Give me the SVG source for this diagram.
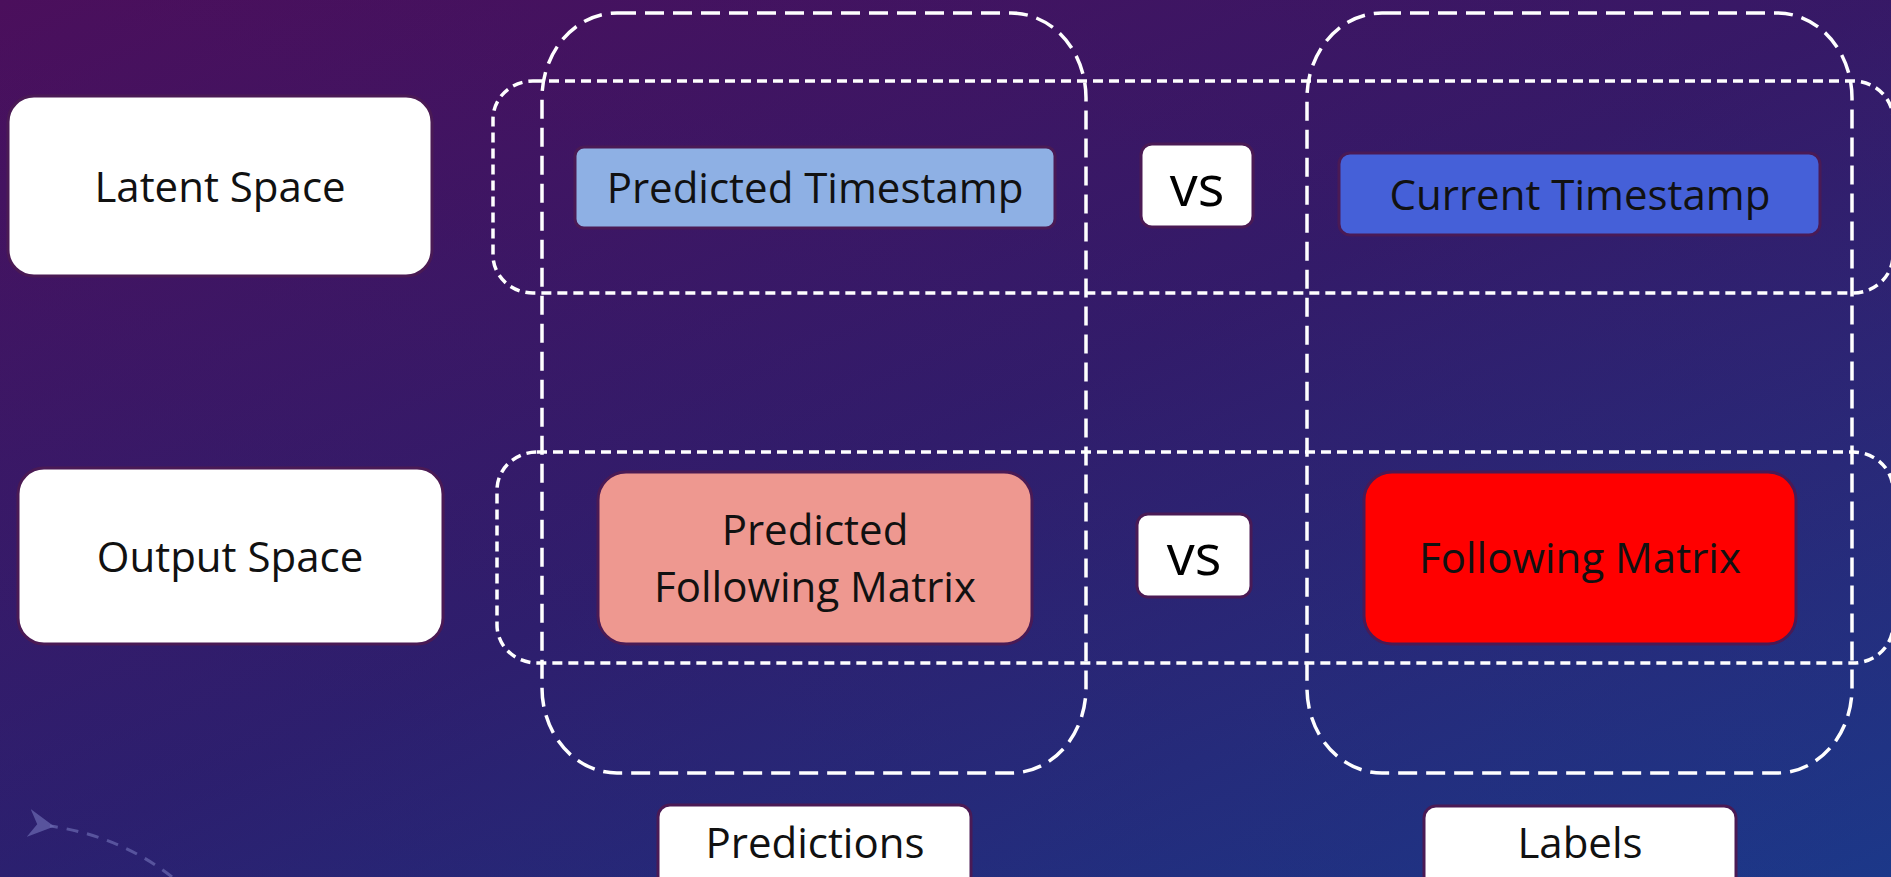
<svg xmlns="http://www.w3.org/2000/svg" width="1891" height="877" viewBox="0 0 1891 877">
  <defs>
    <linearGradient id="bg" x1="0" y1="0" x2="1" y2="1">
      <stop offset="0" stop-color="#4B0F5C"/>
      <stop offset="0.5" stop-color="#301C6A"/>
      <stop offset="1" stop-color="#1C3C8C"/>
    </linearGradient>
    <linearGradient id="bgv" x1="0" y1="0" x2="0" y2="1">
      <stop offset="0" stop-color="#4B0F5C" stop-opacity="0.25"/>
      <stop offset="1" stop-color="#1C2C80" stop-opacity="0.25"/>
    </linearGradient>
    <marker id="decoArrow" viewBox="0 0 24 26" refX="4" refY="13" markerWidth="26" markerHeight="28" markerUnits="userSpaceOnUse" orient="auto">
      <path d="M0 13 L24 0 L16 13 L24 26 Z" fill="#6B69B0" fill-opacity="0.7"/>
    </marker>
  </defs>
  <style>
    .box { stroke: #4A1A55; stroke-width: 3; }
    .white { fill: #FFFFFF; }
    .lbl { font-family: "Open Sans", "Liberation Sans", sans-serif; font-size: 42px; fill: #111111; text-anchor: middle; }
    .vs { font-size: 56px; fill: #000000; }
    .col { fill: none; stroke: #FFFFFF; stroke-width: 3.5; stroke-dasharray: 19 9; }
    .row { fill: none; stroke: #FFFFFF; stroke-width: 3.5; stroke-dasharray: 10 6; }
  </style>

  <rect x="0" y="0" width="1891" height="877" fill="url(#bg)"/>
  <rect x="0" y="0" width="1891" height="877" fill="url(#bgv)"/>

  <!-- faint background decoration -->
  <path d="M172 877 Q120 836 50 826" fill="none" stroke="#6B69B0" stroke-opacity="0.7" stroke-width="3" stroke-dasharray="12 9" marker-end="url(#decoArrow)"/>

  <!-- grouping outlines -->
  <g id="connectors">
    <rect id="col-predictions" class="col" x="542" y="13" width="544" height="760" rx="75" ry="85"/>
    <rect id="col-labels" class="col" x="1307" y="13" width="545" height="760" rx="75" ry="85"/>
    <rect id="row-latent" class="row" x="493" y="81" width="1400" height="212" rx="40" ry="38"/>
    <rect id="row-output" class="row" x="497" y="452" width="1396" height="211" rx="40" ry="38"/>
  </g>

  <g id="latent-space">
    <rect class="box white" x="8" y="96" width="424" height="180" rx="26"/>
    <text class="lbl" x="220" y="202">Latent Space</text>
  </g>

  <g id="output-space">
    <rect class="box white" x="18" y="468" width="425" height="176" rx="26"/>
    <text class="lbl" x="230" y="572">Output Space</text>
  </g>

  <g id="predicted-timestamp">
    <rect class="box" fill="#8EB0E4" x="575" y="147" width="480" height="81" rx="9"/>
    <text class="lbl" x="815" y="203">Predicted Timestamp</text>
  </g>

  <g id="vs-top">
    <rect class="box white" x="1141" y="144" width="112" height="83" rx="11"/>
    <text class="lbl vs" x="1197" y="206">vs</text>
  </g>

  <g id="current-timestamp">
    <rect class="box" fill="#4560D8" x="1339" y="153" width="481" height="82" rx="11"/>
    <text class="lbl" x="1580" y="210">Current Timestamp</text>
  </g>

  <g id="predicted-following-matrix">
    <rect class="box" fill="#EE9890" x="598" y="472" width="434" height="172" rx="28"/>
    <text class="lbl" x="815" y="545">Predicted</text>
    <text class="lbl" x="815" y="602">Following Matrix</text>
  </g>

  <g id="vs-bottom">
    <rect class="box white" x="1137" y="514" width="114" height="83" rx="11"/>
    <text class="lbl vs" x="1194" y="575">vs</text>
  </g>

  <g id="following-matrix">
    <rect class="box" fill="#FF0000" x="1364" y="472" width="432" height="172" rx="28"/>
    <text class="lbl" x="1580" y="573">Following Matrix</text>
  </g>

  <g id="predictions">
    <rect class="box white" x="658" y="805" width="313" height="95" rx="12"/>
    <text class="lbl" x="815" y="858">Predictions</text>
  </g>

  <g id="labels">
    <rect class="box white" x="1424" y="806" width="312" height="95" rx="12"/>
    <text class="lbl" x="1580" y="858">Labels</text>
  </g>
</svg>
